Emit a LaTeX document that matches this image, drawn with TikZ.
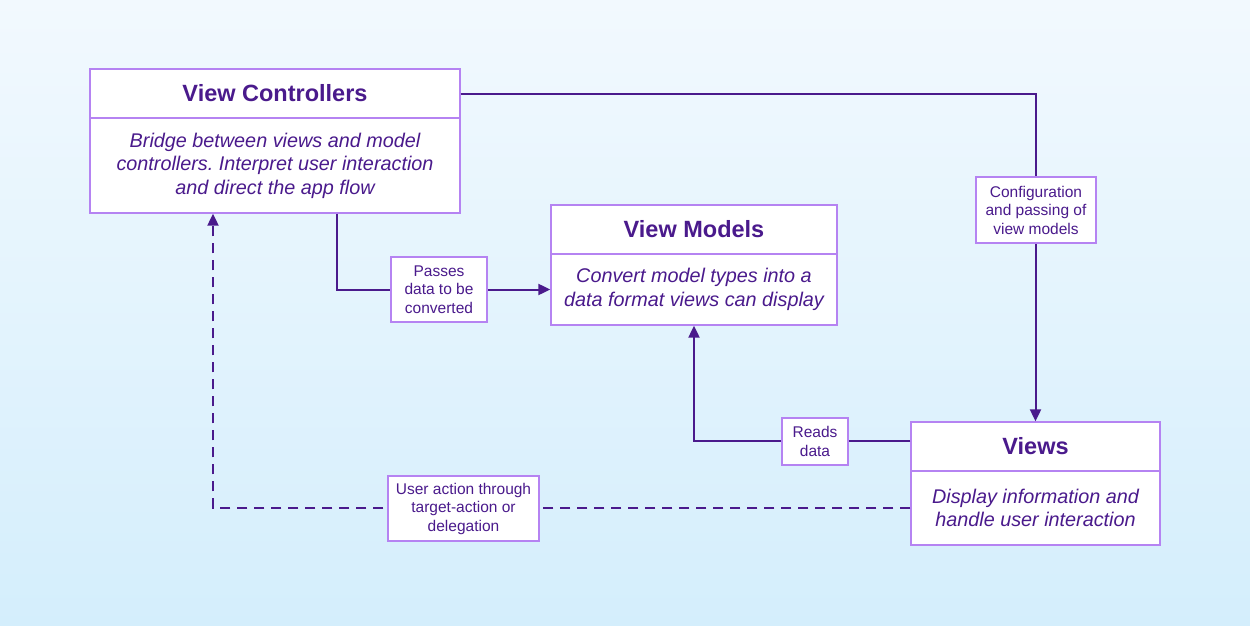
\documentclass[tikz,border=0pt]{standalone}
\usepackage{fontspec}
\setmainfont{Liberation Sans}
\usetikzlibrary{arrows.meta}
\definecolor{ink}{HTML}{4A1A8C}
\definecolor{frame}{HTML}{B583F2}
\definecolor{bgtop}{HTML}{F2F9FE}
\definecolor{bgbot}{HTML}{D4EEFC}
\frenchspacing
\begin{document}
\begin{tikzpicture}[x=1pt,y=-1pt,
 boxpart/.style={draw=frame, line width=1.3pt, fill=white, inner sep=0pt, text=ink, align=center},
 titlepart/.style={boxpart, font=\fontsize{23.5}{27}\selectfont\bfseries},
 bodypart/.style={boxpart, font=\fontsize{19.8}{23.5}\selectfont\itshape},
 tag/.style={draw=frame, line width=1.2pt, fill=white, text=ink, align=center, inner sep=0pt, font=\fontsize{15.5}{18.5}\selectfont},
 link/.style={draw=ink, line width=2pt},
 tip/.style={-{Triangle[length=12pt,width=11pt]}},
 dashedlink/.style={link, dash pattern=on 10pt off 7pt},
]
\useasboundingbox (0,0) rectangle (1250,626);
\shade[top color=bgtop, bottom color=bgbot] (0,0) rectangle (1250,626);

% View Controllers
\node[titlepart, minimum width=370, minimum height=49] (vct) at (275,93.5) {View Controllers};
\node[bodypart, minimum width=370, minimum height=95] (vcb) at (275,165.5) {Bridge between views and model\\controllers. Interpret user interaction\\and direct the app flow};

% View Models
\node[titlepart, minimum width=286, minimum height=49] (vmt) at (694,229.5) {View Models};
\node[bodypart, minimum width=286, minimum height=71] (vmb) at (694,289.5) {Convert model types into a\\data format views can display};

% Views
\node[titlepart, minimum width=249, minimum height=49] (vwt) at (1035.5,446.5) {Views};
\node[bodypart, minimum width=249, minimum height=74] (vwb) at (1035.5,508) {Display information and\\handle user interaction};

% connectors
\draw[link, tip] (vct.east) -| (vwt.north);
\draw[link, tip] ([xshift=62pt]vcb.south) |- (vmb.west);
\draw[link, tip] ([yshift=5.5pt]vwt.west) -| (vmb.south);
\draw[dashedlink, tip] (vwb.west) -| ([xshift=-62pt]vcb.south);

% labels
\node[tag, minimum width=96, minimum height=65] (lpass) at (439,289.5) {Passes\\data to be\\converted};
\node[tag, minimum width=120, minimum height=66] (lconf) at (1036,210) {Configuration\\and passing of\\view models};
\node[tag, minimum width=66, minimum height=47] (lread) at (815,441.5) {Reads\\data};
\node[tag, minimum width=151, minimum height=65] (luser) at (463.5,508.5) {User action through\\target-action or\\delegation};
\end{tikzpicture}
\end{document}
